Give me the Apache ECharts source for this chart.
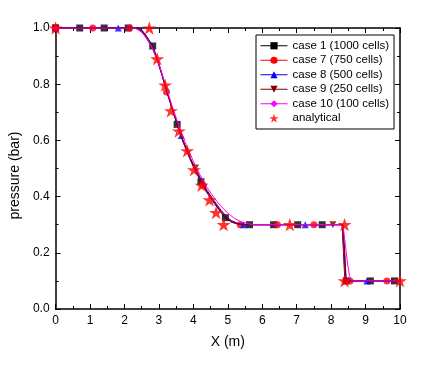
<!DOCTYPE html>
<html>
<head>
<meta charset="utf-8">
<script src="https://cdn.jsdelivr.net/npm/echarts@6/dist/echarts.min.js"></script>
<style>
html,body{margin:0;padding:0;background:#fff;}
#chart{width:429px;height:365px;}
</style>
</head>
<body>
<div id="chart"></div>
<script>
// ---- data ----
const seriesNames = ['case 1 (1000 cells)', 'case 7 (750 cells)', 'case 8 (500 cells)', 'case 9 (250 cells)', 'case 10 (100 cells)'];
const analyticalName = 'analytical';

const case1X = [0, 2.4, 2.5, 2.6, 2.7, 2.82, 2.95, 3.1, 3.25, 3.4, 3.53, 3.7, 3.9, 4.06, 4.22, 4.4, 4.6, 4.8, 4.93, 5.1, 5.3, 5.5, 8.32, 8.36, 8.40, 10];
const case1Y = [1.0, 1.0, 0.993, 0.978, 0.96, 0.936, 0.893, 0.832, 0.77, 0.71, 0.657, 0.595, 0.535, 0.49, 0.453, 0.413, 0.377, 0.344, 0.325, 0.309, 0.302, 0.30, 0.30, 0.20, 0.10, 0.10];
const case7X = [0, 2.4, 2.5, 2.6, 2.7, 2.82, 2.95, 3.1, 3.22, 3.4, 3.55, 3.7, 3.9, 4.06, 4.22, 4.4, 4.6, 4.8, 4.95, 5.1, 5.3, 5.5, 8.33, 8.37, 8.41, 10];
const case7Y = [1.0, 1.0, 0.992, 0.976, 0.957, 0.932, 0.89, 0.83, 0.772, 0.708, 0.652, 0.596, 0.536, 0.492, 0.455, 0.415, 0.379, 0.346, 0.326, 0.31, 0.302, 0.30, 0.30, 0.20, 0.10, 0.10];
const case8X = [0, 2.4, 2.5, 2.6, 2.7, 2.82, 2.95, 3.1, 3.25, 3.4, 3.55, 3.65, 3.9, 4.06, 4.22, 4.4, 4.6, 4.8, 4.95, 5.1, 5.3, 5.5, 8.35, 8.39, 8.43, 10];
const case8Y = [1.0, 1.0, 0.991, 0.975, 0.955, 0.93, 0.888, 0.828, 0.768, 0.706, 0.65, 0.617, 0.538, 0.494, 0.457, 0.417, 0.381, 0.348, 0.328, 0.312, 0.303, 0.30, 0.30, 0.20, 0.10, 0.10];
const case9X = [0, 2.35, 2.5, 2.6, 2.7, 2.82, 2.95, 3.1, 3.25, 3.4, 3.55, 3.7, 3.9, 4.06, 4.22, 4.4, 4.6, 4.8, 4.95, 5.1, 5.3, 5.5, 8.34, 8.39, 8.44, 10];
const case9Y = [1.0, 1.0, 0.988, 0.971, 0.951, 0.926, 0.886, 0.828, 0.768, 0.708, 0.652, 0.598, 0.54, 0.502, 0.462, 0.422, 0.386, 0.352, 0.331, 0.315, 0.304, 0.30, 0.30, 0.21, 0.10, 0.10];
const case10X = [0, 2.3, 2.5, 2.65, 2.8, 3.0, 3.2, 3.4, 3.6, 3.8, 4.0, 4.2, 4.4, 4.6, 4.8, 5.0, 5.2, 5.4, 5.6, 5.8, 8.3, 8.36, 8.42, 8.48, 8.53, 8.6, 10];
const case10Y = [1.0, 1.0, 0.985, 0.962, 0.93, 0.872, 0.795, 0.716, 0.646, 0.582, 0.526, 0.476, 0.432, 0.396, 0.366, 0.341, 0.322, 0.31, 0.303, 0.30, 0.30, 0.285, 0.22, 0.16, 0.12, 0.10, 0.10];

const case1MarkX = [0, 0.7, 1.41, 2.11, 2.82, 3.53, 4.22, 4.93, 5.63, 6.33, 7.03, 7.74, 8.44, 9.14, 9.84];
const case1MarkY = [1.0, 1.0, 1.0, 1.0, 0.936, 0.657, 0.453, 0.325, 0.30, 0.30, 0.30, 0.30, 0.10, 0.10, 0.10];
const case7MarkX = [0, 1.08, 2.15, 3.22, 4.29, 5.36, 6.44, 7.5, 8.55, 9.62];
const case7MarkY = [1.0, 1.0, 1.0, 0.772, 0.44, 0.30, 0.30, 0.30, 0.10, 0.10];
const case8MarkX = [0, 1.82, 3.65, 5.46, 7.25, 9.04];
const case8MarkY = [1.0, 1.0, 0.617, 0.30, 0.30, 0.10];
const case9MarkX = [0, 4.06, 8.05];
const case9MarkY = [1.0, 0.502, 0.30];
const case10MarkX = [0];
const case10MarkY = [1.0];

const analyticalX = [0, 2.72, 2.95, 3.18, 3.35, 3.58, 3.82, 4.02, 4.24, 4.47, 4.66, 4.88, 6.8, 8.39, 8.39, 10];
const analyticalY = [1.0, 1.0, 0.89, 0.797, 0.705, 0.633, 0.563, 0.495, 0.44, 0.388, 0.343, 0.30, 0.30, 0.30, 0.10, 0.10];

const xTicks = { min: 0, max: 10, interval: 1 };
const yTicks = { min: 0, max: 1, interval: 0.2 };

// ---- styles ----
const colors = ['#000000', '#ff0000', '#0000ff', '#800000', '#ff00ff'];
const symbols = ['rect', 'circle', 'triangle', 'triangle', 'diamond'];
const rotations = [0, 0, 0, 180, 0];
const lineX = [case1X, case7X, case8X, case9X, case10X];
const lineY = [case1Y, case7Y, case8Y, case9Y, case10Y];
const markX = [case1MarkX, case7MarkX, case8MarkX, case9MarkX, case10MarkX];
const markY = [case1MarkY, case7MarkY, case8MarkY, case9MarkY, case10MarkY];
const starPath = 'path://M50,0 L62,36 L100,36 L69,58 L81,95 L50,72 L19,95 L31,58 L0,36 L38,36 Z';
const font = 'Arial, "Liberation Sans", sans-serif';

function zip(xs, ys) { return xs.map((x, i) => [x, ys[i]]); }

const series = [];
seriesNames.forEach((name, i) => {
  series.push({
    name: name, type: 'line', data: zip(lineX[i], lineY[i]),
    showSymbol: false, symbol: symbols[i], symbolRotate: rotations[i], symbolSize: 7,
    lineStyle: { color: colors[i], width: 1 }, itemStyle: { color: colors[i] },
    z: 2 + i, animation: false, silent: true
  });
});
seriesNames.forEach((name, i) => {
  series.push({
    name: name + ' markers', type: 'scatter', data: zip(markX[i], markY[i]),
    symbol: symbols[i], symbolRotate: rotations[i], symbolSize: 7,
    itemStyle: { color: colors[i] }, z: 2 + i, animation: false, silent: true
  });
});
series.push({
  name: analyticalName, type: 'scatter', data: zip(analyticalX, analyticalY),
  symbol: starPath, symbolKeepAspect: true, symbolSize: 14,
  itemStyle: { color: '#ff0000' }, z: 10, animation: false, silent: true
});

function xAxisCfg(pos, showLabel) {
  return {
    type: 'value', position: pos, min: xTicks.min, max: xTicks.max, interval: xTicks.interval,
    axisLine: { show: true, onZero: false, lineStyle: { color: '#000', width: 1.5 } },
    axisTick: { show: true, inside: true, length: 5, lineStyle: { color: '#000', width: 1 } },
    minorTick: { show: true, splitNumber: 2, length: 3, lineStyle: { color: '#000', width: 1 } },
    axisLabel: { show: showLabel, color: '#000', fontSize: 12, fontFamily: font, margin: 6 },
    splitLine: { show: false }
  };
}
function yAxisCfg(pos, showLabel) {
  return {
    type: 'value', position: pos, min: yTicks.min, max: yTicks.max, interval: yTicks.interval,
    axisLine: { show: true, onZero: false, lineStyle: { color: '#000', width: 1.5 } },
    axisTick: { show: true, inside: true, length: 5, lineStyle: { color: '#000', width: 1 } },
    minorTick: { show: true, splitNumber: 2, length: 3, lineStyle: { color: '#000', width: 1 } },
    axisLabel: { show: showLabel, color: '#000', fontSize: 12, fontFamily: font, margin: 6,
      formatter: v => v.toFixed(1) },
    splitLine: { show: false }
  };
}

const xBottom = xAxisCfg('bottom', true);
xBottom.name = 'X (m)';
xBottom.nameLocation = 'middle';
xBottom.nameGap = 26;
xBottom.nameTextStyle = { color: '#000', fontSize: 14, fontFamily: font };
const yLeft = yAxisCfg('left', true);
yLeft.name = 'pressure (bar)';
yLeft.nameLocation = 'middle';
yLeft.nameGap = 28;
yLeft.nameTextStyle = { color: '#000', fontSize: 14, fontFamily: font, padding: [0, 14, 0, 0] };

const chart = echarts.init(document.getElementById('chart'), null, { renderer: 'canvas' });
chart.setOption({
  backgroundColor: '#fff',
  animation: false,
  grid: { left: 55, right: 29, top: 28, bottom: 56, containLabel: false },
  xAxis: [xBottom, xAxisCfg('top', false)],
  yAxis: [yLeft, yAxisCfg('right', false)],
  legend: {
    orient: 'vertical', left: 256, top: 35,
    borderColor: '#000', borderWidth: 1, padding: [3.5, 5, 3.5, 4],
    itemWidth: 27, itemHeight: 9, itemGap: 0,
    lineStyle: { width: 1 },
    textStyle: { color: '#000', fontSize: 11.5, fontFamily: font, lineHeight: 14.5 },
    selectedMode: false,
    data: seriesNames.map(n => ({ name: n })).concat([{ name: analyticalName, icon: starPath }])
  },
  series: series
});
</script>
</body>
</html>
